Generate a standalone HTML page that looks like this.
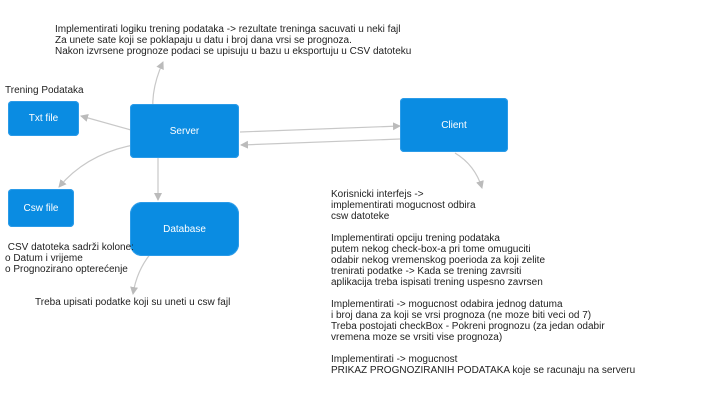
<!DOCTYPE html>
<html><head><style>
body{margin:0;width:716px;height:414px;background:#fff;position:relative;overflow:hidden;font-family:"Liberation Sans",sans-serif}
.b{position:absolute;background:#0a8ce2;color:#fff;font-size:10px;display:flex;align-items:center;justify-content:center;border-radius:4px;box-shadow:0 0 0 1px #2b9be8 inset}
.t{position:absolute;font-size:10px;color:#222;line-height:11px;white-space:pre}
svg{position:absolute;left:0;top:0}
</style></head><body>
<svg width="716" height="414">
<defs><marker id="a" markerWidth="8" markerHeight="8" refX="7" refY="4" orient="auto" markerUnits="userSpaceOnUse"><path d="M0,0L8,4L0,8z" fill="#bbb"/></marker></defs>
<g stroke="#c8c8c8" stroke-width="1.2" fill="none" marker-end="url(#a)">
<path d="M131,130L81,116"/>
<path d="M146,143Q90,150 59,187"/>
<path d="M158,158L158,200"/>
<path d="M155,123Q148,95 163,62"/>
<path d="M240,132L400,126"/>
<path d="M400,139L241,145"/>
<path d="M455,153Q475,165 482,188"/>
<path d="M163,241Q138,262 133,294"/>
</g></svg>
<div class="b" style="left:8px;top:101px;width:71px;height:35px">Txt file</div>
<div class="b" style="left:130px;top:104px;width:109px;height:54px">Server</div>
<div class="b" style="left:400px;top:98px;width:108px;height:54px">Client</div>
<div class="b" style="left:8px;top:189px;width:66px;height:38px">Csw file</div>
<div class="b" style="left:130px;top:202px;width:109px;height:54px;border-radius:12px">Database</div>
<div class="t" style="left:55px;top:24px">Implementirati logiku trening podataka -&gt; rezultate treninga sacuvati u neki fajl
Za unete sate koji se poklapaju u datu i broj dana vrsi se prognoza.
Nakon izvrsene prognoze podaci se upisuju u bazu u eksportuju u CSV datoteku</div>
<div class="t" style="left:5px;top:85px">Trening Podataka</div>
<div class="t" style="left:5px;top:242px"> CSV datoteka sadrži kolone:
o Datum i vrijeme
o Prognozirano opterećenje</div>
<div class="t" style="left:35px;top:297px">Treba upisati podatke koji su uneti u csw fajl</div>
<div class="t" style="left:331px;top:189px">Korisnicki interfejs -&gt;
implementirati mogucnost odbira
csw datoteke

Implementirati opciju trening podataka
putem nekog check-box-a pri tome omuguciti
odabir nekog vremenskog poerioda za koji zelite
trenirati podatke -&gt; Kada se trening zavrsiti
aplikacija treba ispisati trening uspesno zavrsen

Implementirati -&gt; mogucnost odabira jednog datuma
i broj dana za koji se vrsi prognoza (ne moze biti veci od 7)
Treba postojati checkBox - Pokreni prognozu (za jedan odabir
vremena moze se vrsiti vise prognoza)

Implementirati -&gt; mogucnost
PRIKAZ PROGNOZIRANIH PODATAKA koje se racunaju na serveru</div>
</body></html>
